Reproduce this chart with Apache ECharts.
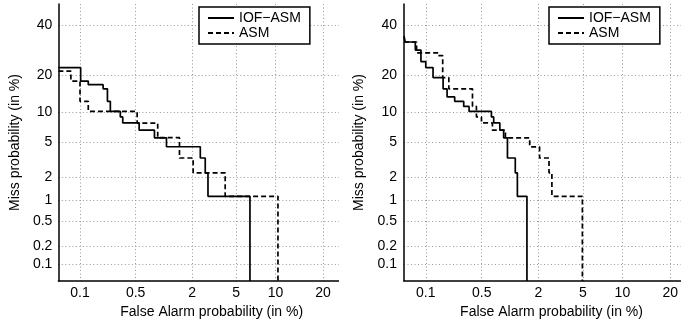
<!DOCTYPE html>
<html><head><meta charset="utf-8">
<script src="https://cdn.jsdelivr.net/npm/echarts@6/dist/echarts.min.js"></script>
<style>
html,body{margin:0;padding:0;background:#fff;overflow:hidden;width:681px;height:324px;}
#wrapL{position:absolute;left:0;top:0;width:339px;height:324px;overflow:hidden;}
#wrapR{position:absolute;left:340px;top:0;width:341px;height:324px;overflow:hidden;}
#cL,#cR{width:420px;height:324px;}
</style></head><body>
<div id="wrapL"><div id="cL"></div></div>
<div id="wrapR"><div id="cR"></div></div>
<script>
// ---- tick labels (in %) ----
const xTicks = [0.1, 0.5, 2, 5, 10, 20];
const yTicks = [0.1, 0.2, 0.5, 1, 2, 5, 10, 20, 40];
const seriesNames = ['IOF\u2212ASM', 'ASM'];

// ---- left panel: DET step corners (False alarm %, Miss %) ----
const leftIofX = [0.05, 0.102, 0.129, 0.201, 0.228, 0.248, 0.329, 0.352, 0.549, 0.816, 1.10, 2.40, 2.67, 2.83, 6.45];
const leftIofY = [22.5, 18.0, 16.9, 15.7, 12.4, 10.1, 9.0, 7.9, 6.7, 5.6, 4.5, 3.37, 2.25, 1.12, 0.05];
const leftAsmX = [0.05, 0.075, 0.10, 0.129, 0.521, 0.886, 1.50, 2.05, 4.03, 10.4];
const leftAsmY = [21.3, 18.0, 12.4, 10.1, 7.87, 5.62, 3.37, 2.25, 1.12, 0.05];

// ---- right panel ----
const rightIofX = [0.05, 0.052, 0.072, 0.086, 0.10, 0.125, 0.169, 0.190, 0.237, 0.306, 0.355, 0.645, 0.684, 0.80, 0.88, 0.967, 1.17, 1.23, 1.54];
const rightIofY = [35.2, 32.6, 29.2, 24.7, 22.5, 19.1, 15.7, 13.5, 12.4, 11.2, 10.1, 9.0, 7.9, 6.7, 5.6, 3.37, 2.25, 1.12, 0.05];
const rightAsmX = [0.05, 0.075, 0.146, 0.167, 0.20, 0.39, 0.434, 0.497, 0.662, 0.919, 1.64, 2.05, 2.52, 2.68, 4.95];
const rightAsmY = [32.6, 28.1, 27.0, 19.1, 15.7, 11.2, 9.0, 7.9, 6.7, 5.6, 4.49, 3.37, 2.25, 1.12, 0.05];

// axis ranges (in %)
const yRange = [0.05, 50];
const xRangeL = [0.05, 32.5];
const xRangeR = [0.05, 28.2];

// inverse normal CDF (probit scale used by DET plots)
function probit(p){
  const a=[-3.969683028665376e+01,2.209460984245205e+02,-2.759285104469687e+02,1.383577518672690e+02,-3.066479806614716e+01,2.506628277459239e+00];
  const b=[-5.447609879822406e+01,1.615858368580409e+02,-1.556989798598866e+02,6.680131188771972e+01,-1.328068155288572e+01];
  const c=[-7.784894002430293e-03,-3.223964580411365e-01,-2.400758277161838e+00,-2.549732539343734e+00,4.374664141464968e+00,2.938163982698783e+00];
  const d=[7.784695709041462e-03,3.224671290700398e-01,2.445134137142996e+00,3.754408661907416e+00];
  const pl=0.02425, ph=1-pl; let q,r;
  if(p<pl){q=Math.sqrt(-2*Math.log(p));return (((((c[0]*q+c[1])*q+c[2])*q+c[3])*q+c[4])*q+c[5])/((((d[0]*q+d[1])*q+d[2])*q+d[3])*q+1);}
  if(p<=ph){q=p-0.5;r=q*q;return (((((a[0]*r+a[1])*r+a[2])*r+a[3])*r+a[4])*r+a[5])*q/(((((b[0]*r+b[1])*r+b[2])*r+b[3])*r+b[4])*r+1);}
  q=Math.sqrt(-2*Math.log(1-p));return -(((((c[0]*q+c[1])*q+c[2])*q+c[3])*q+c[4])*q+c[5])/((((d[0]*q+d[1])*q+d[2])*q+d[3])*q+1);
}
const pz = v => probit(v/100);
const FONT = '"Liberation Sans", Arial, Helvetica, sans-serif';

function labelFor(ticks){
  return v => { const i = ticks.findIndex(t => Math.abs(pz(t)-v) < 1e-6); return i >= 0 ? String(ticks[i]) : ''; };
}

function makeOption(cfg){
  const grid = {left: cfg.gridLeft, top: 4, width: cfg.gridWidth, height: 281};
  const split = {show: true, lineStyle: {color: '#9a9a9a', width: 1, type: [1, 2.5]}};
  return {
    animation: false,
    backgroundColor: '#fff',
    color: ['#000', '#000'],
    textStyle: {fontFamily: FONT},
    grid: grid,
    legend: {
      left: cfg.legendLeft, top: 7, orient: 'vertical',
      itemWidth: 26, itemHeight: 14, itemGap: 1,
      padding: [4, 9, 4, 8],
      borderColor: '#000', borderWidth: 1.5, backgroundColor: '#fff',
      itemStyle: {opacity: 0},
      textStyle: {fontFamily: FONT, fontSize: 14, color: '#000'},
      data: seriesNames
    },
    xAxis: {
      type: 'value', min: pz(cfg.xRange[0]), max: pz(cfg.xRange[1]),
      name: 'False Alarm probability (in %)', nameLocation: 'middle', nameGap: 20,
      nameTextStyle: {fontFamily: FONT, fontSize: 14, color: '#000'},
      axisLine: {show: true, onZero: false, lineStyle: {color: '#000', width: 1.5}},
      axisTick: {show: false, customValues: xTicks.map(pz)},
      axisLabel: {customValues: xTicks.map(pz), formatter: labelFor(xTicks), margin: 5,
                  fontFamily: FONT, fontSize: 14, color: '#000'},
      splitLine: split
    },
    yAxis: {
      type: 'value', min: pz(yRange[0]), max: pz(yRange[1]),
      name: 'Miss probability (in %)', nameLocation: 'middle', nameGap: cfg.yNameGap,
      nameTextStyle: {fontFamily: FONT, fontSize: 14, color: '#000'},
      axisLine: {show: true, onZero: false, lineStyle: {color: '#000', width: 1.5}},
      axisTick: {show: false, customValues: yTicks.map(pz)},
      axisLabel: {customValues: yTicks.map(pz), formatter: labelFor(yTicks), margin: cfg.yMargin,
                  fontFamily: FONT, fontSize: 14, color: '#000'},
      splitLine: split
    },
    series: [
      {name: seriesNames[0], type: 'line', step: 'end', symbol: 'none', z: 3,
       itemStyle: {color: '#000'},
       data: cfg.iofX.map((x, i) => [pz(x), pz(cfg.iofY[i])]),
       lineStyle: {color: '#000', width: 1.7, type: 'solid'}},
      {name: seriesNames[1], type: 'line', step: 'end', symbol: 'none', z: 2,
       itemStyle: {color: '#000'},
       data: cfg.asmX.map((x, i) => [pz(x), pz(cfg.asmY[i])]),
       lineStyle: {color: '#000', width: 1.7, type: [5, 3]}}
    ]
  };
}

const chartL = echarts.init(document.getElementById('cL'), null, {renderer: 'canvas'});
chartL.setOption(makeOption({gridLeft: 56, gridWidth: 309, legendLeft: 199, yNameGap: 34, yMargin: 6,
  xRange: xRangeL, iofX: leftIofX, iofY: leftIofY, asmX: leftAsmX, asmY: leftAsmY}));

const chartR = echarts.init(document.getElementById('cR'), null, {renderer: 'canvas'});
chartR.setOption(makeOption({gridLeft: 64, gridWidth: 295, legendLeft: 209, yNameGap: 36, yMargin: 7,
  xRange: xRangeR, iofX: rightIofX, iofY: rightIofY, asmX: rightAsmX, asmY: rightAsmY}));
</script></body></html>
